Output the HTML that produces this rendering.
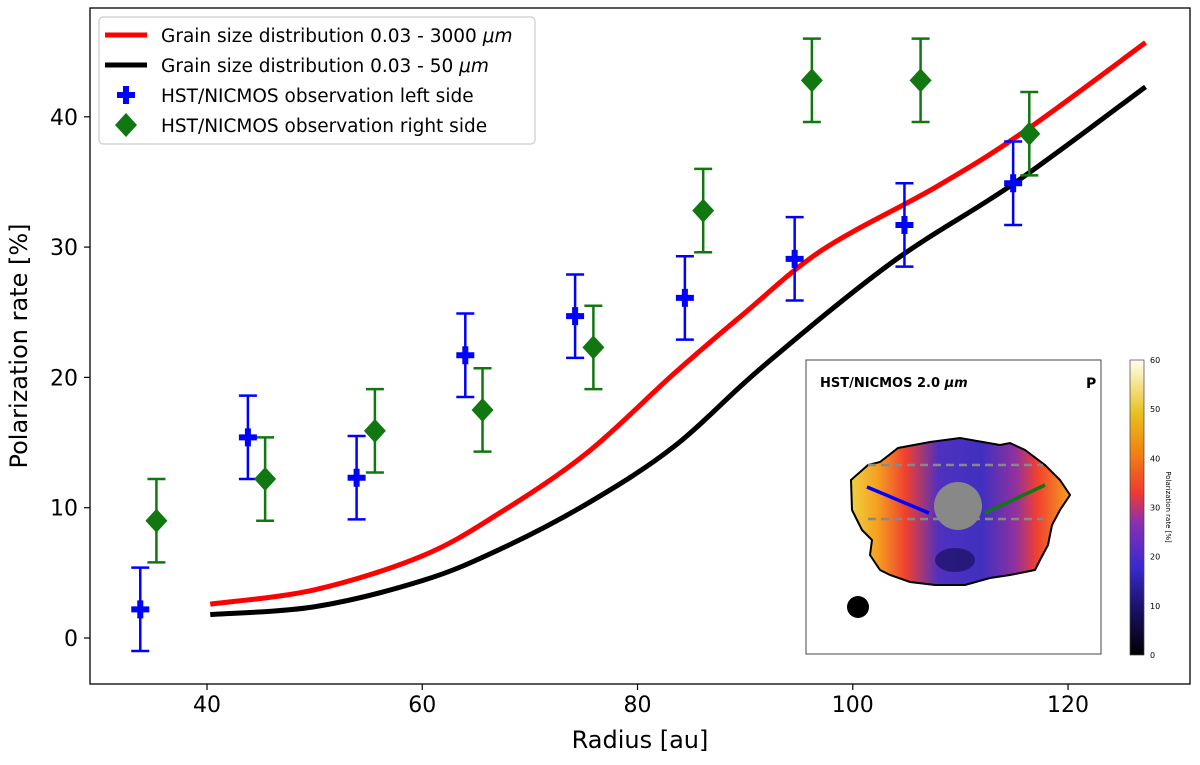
<!DOCTYPE html>
<html><head><meta charset="utf-8"><style>
body{margin:0;background:#fff;font-family:"Liberation Sans","DejaVu Sans",sans-serif}
svg text{font-family:"DejaVu Sans","Liberation Sans",sans-serif}
</style></head><body>
<svg id="c" width="1200" height="760" xmlns="http://www.w3.org/2000/svg">
<defs>
<linearGradient id="cb" x1="0" y1="1" x2="0" y2="0">
<stop offset="0" stop-color="#000"/><stop offset="0.15" stop-color="#1a1060"/><stop offset="0.3" stop-color="#3a2ad0"/><stop offset="0.45" stop-color="#8a30b0"/><stop offset="0.55" stop-color="#f03a30"/><stop offset="0.7" stop-color="#f08a10"/><stop offset="0.82" stop-color="#e8c020"/><stop offset="1" stop-color="#fffff0"/></linearGradient>
<linearGradient id="blob" x1="0" y1="0" x2="1" y2="0">
<stop offset="0" stop-color="#f0d040"/><stop offset="0.12" stop-color="#f5a020"/><stop offset="0.25" stop-color="#f04030"/><stop offset="0.4" stop-color="#5030c0"/><stop offset="0.6" stop-color="#4030c0"/><stop offset="0.75" stop-color="#9030a0"/><stop offset="0.85" stop-color="#f04030"/><stop offset="1" stop-color="#f5a020"/></linearGradient>
</defs>
<g id="plot"></g>
</svg>
<script>
const NS='http://www.w3.org/2000/svg';
const xTicks=[40,60,80,100,120];
const yTicks=[0,10,20,30,40];
const redX=[40.3,50,60,67.2,75.3,83.4,89.9,97.2,107.7,115.8,127.2];
const redY=[2.6,3.7,6.3,9.6,14.2,20.3,24.9,29.8,34.6,38.8,45.7];
const blackX=[40.3,50,60,67.2,75.3,83.4,91.6,103.6,115,127.2];
const blackY=[1.8,2.4,4.4,6.8,10.3,14.7,20.8,28.8,34.9,42.3];
const leftX=[33.8,43.8,53.9,64.0,74.2,84.4,94.6,104.8,114.9];
const leftY=[2.2,15.4,12.3,21.7,24.7,26.1,29.1,31.7,34.9];
const leftErr=[3.2,3.2,3.2,3.2,3.2,3.2,3.2,3.2,3.2];
const rightX=[35.3,45.4,55.6,65.6,75.9,86.1,96.2,106.3,116.4];
const rightY=[9.0,12.2,15.9,17.5,22.3,32.8,42.8,42.8,38.7];
const rightErr=[3.2,3.2,3.2,3.2,3.2,3.2,3.2,3.2,3.2];
const L=90,T=8,R=1190,B=684;
const sx=v=>207+(v-40)*10.763;
const sy=v=>638-v*13.03;
const g=document.getElementById('plot');
function el(tag,attrs,parent){const e=document.createElementNS(NS,tag);for(const k in attrs)e.setAttribute(k,attrs[k]);(parent||g).appendChild(e);return e;}
function txt(s,attrs,name){const e=el('text',attrs);e.textContent=s;return e;}
xTicks.forEach(v=>{const t=el('line',{x1:sx(v),x2:sx(v),y1:B,y2:B+6,stroke:'#000','stroke-width':1.2});

txt(String(v),{x:sx(v),y:B+28,'font-size':22,'text-anchor':'middle'},'x-tick-label');});
yTicks.forEach(v=>{const t=el('line',{x1:L-6,x2:L,y1:sy(v),y2:sy(v),stroke:'#000','stroke-width':1.2});

txt(String(v),{x:L-12,y:sy(v)+8,'font-size':22,'text-anchor':'end'},'y-tick-label');});
txt('Radius [au]',{x:640,y:748,'font-size':24,'text-anchor':'middle'},'x-axis-title');
txt('Polarization rate [%]',{x:0,y:0,'font-size':24,'text-anchor':'middle',transform:'translate(27,346) rotate(-90)'},'y-axis-title');
function line(xs,ys,color,name){
let p=xs.map((x,i)=>[sx(x),sy(ys[i])]);let s='M'+p[0];
for(let i=0;i<p.length-1;i++){const p0=p[i-1]||p[i],p1=p[i],p2=p[i+1],p3=p[i+2]||p2;
s+=` C${p1[0]+(p2[0]-p0[0])/6},${p1[1]+(p2[1]-p0[1])/6} ${p2[0]-(p3[0]-p1[0])/6},${p2[1]-(p3[1]-p1[1])/6} ${p2[0]},${p2[1]}`;}
const e=el('path',{d:s,fill:'none',stroke:color,'stroke-width':5});}
line(blackX,blackY,'#000','black-curve');
line(redX,redY,'#f00','red-curve');
function errs(xs,ys,es,color){xs.forEach((x,i)=>{const X=sx(x),y1=sy(ys[i]+es[i]),y2=sy(ys[i]-es[i]);
const e=el('path',{d:`M${X},${y1}V${y2}M${X-9},${y1}H${X+9}M${X-9},${y2}H${X+9}`,stroke:color,'stroke-width':2.5,fill:'none'});
});}
errs(leftX,leftY,leftErr,'#0000ff');errs(rightX,rightY,rightErr,'#117711');
function cross(X,Y,parent){return el('path',{d:`M${X-3},${Y-9}h6v6h6v6h-6v6h-6v-6h-6v-6h6z`,fill:'#0000ff'},parent);}
function diamond(X,Y,parent){return el('path',{d:`M${X},${Y-12}L${X+11},${Y}L${X},${Y+12}L${X-11},${Y}z`,fill:'#117711'},parent);}
leftX.forEach((x,i)=>{const e=cross(sx(x),sy(leftY[i]));});
rightX.forEach((x,i)=>{const e=diamond(sx(x),sy(rightY[i]));});
const fr=el('rect',{x:L,y:T,width:R-L,height:B-T,fill:'none',stroke:'#000','stroke-width':1.3});

const lg=el('g',{});
el('rect',{x:99,y:17,width:436,height:127,rx:4,fill:'#fff',stroke:'#ccc','stroke-width':1.2},lg);
const items=[['Grain size distribution 0.03 - 3000 ','μm','red'],['Grain size distribution 0.03 - 50 ','μm','black'],['HST/NICMOS observation left side','','cross'],['HST/NICMOS observation right side','','diamond']];
items.forEach((it,i)=>{const y=35+i*30;
if(it[2]==='red'||it[2]==='black')el('line',{x1:105,x2:147,y1:y,y2:y,stroke:it[2]==='red'?'#f00':'#000','stroke-width':5},lg);
else if(it[2]==='cross')cross(126,y,lg);else diamond(126,y,lg);
const t=el('text',{x:161,y:y+7,'font-size':18.5},lg);t.textContent=it[0];
if(it[1]){const ts=el('tspan',{'font-style':'italic'},t);ts.textContent=it[1];}
});
const ins=el('g',{});
el('rect',{x:806,y:360,width:295,height:294,fill:'#fff',stroke:'#444','stroke-width':1},ins);
el('path',{d:'M851,480 L868,465 L880,462 L898,448 L930,442 L945,440 L960,438 L1000,445 L1010,443 L1025,450 L1045,465 L1060,480 L1070,495 L1060,510 L1052,525 L1048,545 L1040,560 L1035,570 L1010,575 L990,578 L965,585 L935,585 L910,582 L890,575 L880,570 L870,555 L872,540 L862,530 L852,510 Z',fill:'url(#blob)',stroke:'#000','stroke-width':2},ins);
el('ellipse',{cx:955,cy:560,rx:20,ry:12,fill:'#1a1060',opacity:0.7},ins);
el('path',{d:'M868,465H1043M868,519H1043',stroke:'#888','stroke-width':2.5,'stroke-dasharray':'8,5'},ins);
el('line',{x1:867,y1:487,x2:929,y2:513,stroke:'#0000ff','stroke-width':3.5},ins);
el('line',{x1:985,y1:513,x2:1045,y2:485,stroke:'#117711','stroke-width':3.5},ins);
el('circle',{cx:958,cy:506,r:24,fill:'#888'},ins);
el('circle',{cx:858,cy:607,r:11,fill:'#000'},ins);
let t1=el('text',{x:820,y:387,'font-size':13,'font-weight':'bold'},ins);t1.textContent='HST/NICMOS 2.0 ';const ts1=el('tspan',{'font-style':'italic'},t1);ts1.textContent='μm';
let t2=el('text',{x:1086,y:388,'font-size':14,'font-weight':'bold'},ins);t2.textContent='P';
el('rect',{x:1130,y:360,width:14,height:295,fill:'url(#cb)',stroke:'#444','stroke-width':0.7},ins);
[0,10,20,30,40,50,60].forEach(v=>{const y=655-v*295/60;const tt=el('text',{x:1150,y:y+3,'font-size':8},ins);tt.textContent=v;});
let t3=el('text',{x:0,y:0,'font-size':7,'text-anchor':'middle',transform:'translate(1166,507) rotate(90)'},ins);t3.textContent='Polarization rate [%]';
</script>
</body></html>
